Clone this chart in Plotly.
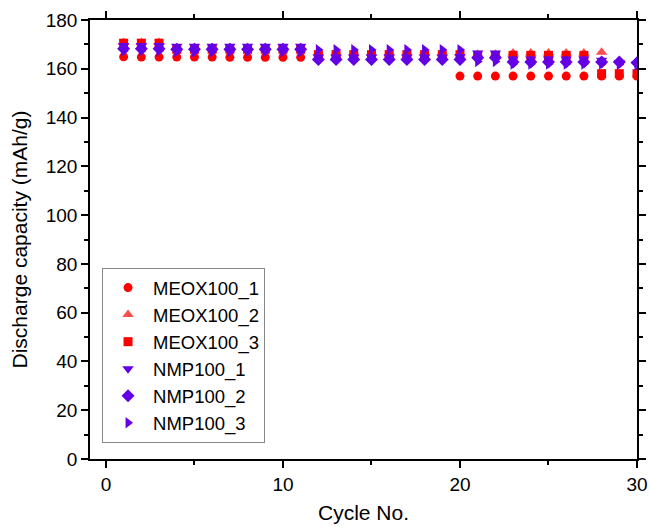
import plotly.graph_objects as go

cycles = list(range(1, 31))

meox100_1 = [164.9, 164.8, 164.8, 164.8, 164.8, 164.8, 164.7, 164.7, 164.7, 164.7,
             164.7, 164.8, 164.8, 164.8, 164.8, 164.8, 164.9, 164.9, 164.9, 157.0,
             157.0, 157.0, 157.0, 157.0, 157.0, 157.0, 157.0, 157.0, 157.0, 157.0]
meox100_2 = [170.8, 170.8, 170.8, 168.5, 168.5, 168.5, 168.5, 168.5, 168.5, 168.5,
             168.5, 166.5, 166.5, 166.5, 166.5, 166.5, 166.5, 166.5, 166.5, 166.5,
             166.0, 166.0, 166.5, 166.5, 166.5, 166.5, 166.5, 166.8, None, None]
meox100_3 = [170.5, 170.5, 170.5, 168.0, 168.0, 168.0, 168.0, 168.0, 168.0, 168.0,
             168.0, 165.8, 165.8, 165.8, 165.8, 165.8, 165.8, 165.8, 165.8, 165.8,
             165.5, 165.5, 165.5, 165.5, 165.5, 165.5, 165.5, 158.0, 158.0, 158.0]
nmp100_1 = [169.5, 169.5, 169.5, 169.2, 169.2, 169.2, 169.2, 169.2, 169.2, 169.2,
            169.2, 164.8, 164.8, 164.8, 164.8, 164.8, 164.8, 164.8, 164.8, 165.0,
            166.5, 166.5, 164.0, 164.0, 164.0, 164.0, 164.0, 163.5, 162.5, 162.0]
nmp100_2 = [168.2, 168.2, 168.2, 168.0, 168.0, 168.0, 168.0, 168.0, 168.0, 168.0,
            168.0, 163.8, 163.8, 163.8, 163.8, 163.8, 163.8, 163.8, 163.8, 163.8,
            164.5, 164.5, 162.8, 162.8, 162.8, 162.8, 162.8, 162.8, 162.8, 162.5]
nmp100_3 = [167.3, 167.3, 167.3, 167.0, 167.0, 167.0, 167.0, 167.0, 167.0, 167.0,
            167.0, 167.8, 167.8, 167.8, 167.8, 167.8, 167.8, 167.8, 167.8, 167.8,
            163.0, 163.0, 162.0, 162.0, 162.0, 162.0, 162.0, 162.0, 161.8, 161.5]

names = ["MEOX100_1", "MEOX100_2", "MEOX100_3", "NMP100_1", "NMP100_2", "NMP100_3"]
series = [meox100_1, meox100_2, meox100_3, nmp100_1, nmp100_2, nmp100_3]
symbols = ["circle", "triangle-up", "square", "triangle-down", "diamond", "triangle-right"]
colors = ["#FF0000", "#FF4D4D", "#FF0000", "#6400E6", "#6400E6", "#6400E6"]
sizes = [9, 10, 9, 10, 10, 10]

fig = go.Figure()
for n, s, sym, c, sz in zip(names, series, symbols, colors, sizes):
    fig.add_trace(go.Scatter(x=cycles, y=s, mode="markers", name=n,
                             marker=dict(symbol=sym, color=c, size=sz, line=dict(width=0))))

FONT = "Liberation Sans, Arial"
axis_common = dict(showline=True, linecolor="black", linewidth=1.5, mirror="ticks",
                   ticks="outside", ticklen=7, tickwidth=1.5, tickcolor="black",
                   showgrid=False, zeroline=False, automargin=False,
                   tickfont=dict(size=19, color="black", family=FONT),
                   title_font=dict(size=21, color="black", family=FONT))

fig.update_xaxes(range=[-0.9, 30], tick0=0, dtick=10,
                 minor=dict(dtick=5, ticks="outside", ticklen=4, tickwidth=1.5, tickcolor="black"),
                 title_text="Cycle No.", title_standoff=12, **axis_common)
fig.update_yaxes(range=[0, 180], tick0=0, dtick=20,
                 minor=dict(dtick=10, ticks="outside", ticklen=4, tickwidth=1.5, tickcolor="black"),
                 title_text="Discharge capacity (mAh/g)", title_standoff=12, **axis_common)

fig.update_layout(
    width=650, height=527,
    margin=dict(l=90, r=13, t=20, b=68),
    paper_bgcolor="white", plot_bgcolor="white",
    font=dict(family=FONT, color="black"),
    legend=dict(x=0.022, y=0.435, xanchor="left", yanchor="top",
                bordercolor="#888888", borderwidth=1, bgcolor="white",
                font=dict(size=18.5, color="black", family=FONT), tracegroupgap=0,
                itemwidth=40),
    showlegend=True,
)

# remove the default 8px page margin so the 650x527 figure fills the window exactly
fig.write_html("out.html",
               config={"displayModeBar": False},
               post_script="document.body.style.margin='0px';document.body.style.overflow='hidden';")
